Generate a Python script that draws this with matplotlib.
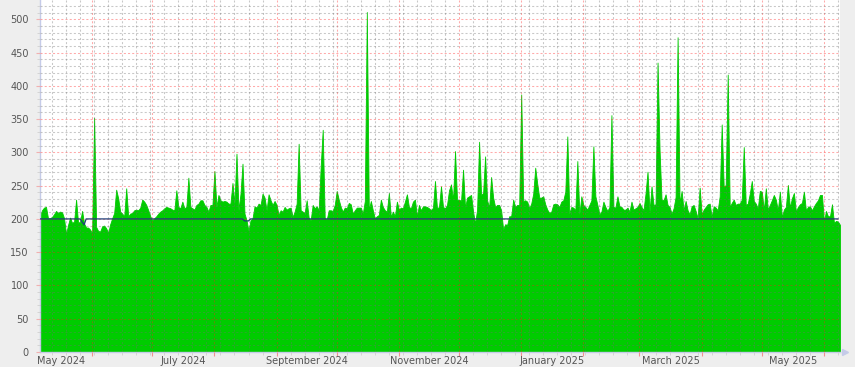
import matplotlib
matplotlib.use("Agg")
import matplotlib.pyplot as plt
import matplotlib.dates as mdates
import pandas as pd

# daily values, 2024-05-06 .. 2025-06-09
start_date = "2024-05-06"
values = [
    205, 213, 217, 218, 201, 201, 203, 207, 212, 209, 211, 210, 201, 177, 191, 202, 194, 196, 229, 194,
    196, 212, 193, 187, 187, 184, 178, 352, 188, 182, 181, 189, 190, 186, 179, 192, 201, 209, 244, 231,
    211, 208, 204, 246, 204, 208, 209, 213, 214, 213, 217, 229, 226, 221, 213, 204, 198, 201, 204, 208,
    211, 213, 216, 218, 217, 216, 214, 213, 243, 218, 216, 226, 216, 218, 262, 218, 216, 214, 221, 223,
    228, 228, 221, 218, 211, 221, 221, 272, 218, 236, 228, 226, 227, 226, 223, 223, 254, 223, 298, 213,
    238, 283,
    208, 198, 182, 198, 201, 219, 217, 223, 221, 238, 232, 213, 237, 228, 221, 227, 221, 206, 213, 211,
    218, 214, 216, 217, 203, 211, 223, 313, 213, 211, 209, 228, 202, 198, 221, 216, 219, 213, 279, 334,
    202, 199, 213, 213, 212, 221, 242, 229, 218, 211, 217, 216, 224, 222, 208, 213, 217, 217, 217, 208,
    227, 511, 213, 227, 213, 201, 204, 206, 229, 218, 213, 211, 239, 203, 211, 204, 226, 214, 217, 216,
    226, 237, 218, 216, 226, 229, 204, 221, 213, 219, 219, 218, 216, 213, 217, 257, 216, 218, 249, 218,
    216, 221, 243, 252, 228, 302, 228, 229, 227, 274, 217, 232, 234, 236, 211, 193, 214, 316, 236, 239,
    294, 228, 217, 263, 232, 218, 221, 221, 213, 184, 192, 191, 204, 204, 229, 218, 221, 221, 387, 227,
    228, 226, 216, 223, 238, 277, 253, 232, 232, 234, 222, 214, 209, 211, 222, 223, 222, 218, 226, 228,
    241, 324, 208, 218, 217, 213, 287, 207, 234, 221, 218, 214, 221, 228, 309, 234, 221, 207, 211, 226,
    218, 212, 218, 356, 218, 217, 234, 219, 218, 214, 214, 217, 211, 226, 214, 216, 218, 224, 218, 213,
    238, 271, 211, 249, 221, 222, 435, 304, 229, 228, 237, 221, 218, 208, 216, 233, 473, 223, 242, 213,
    227, 213, 207, 219, 221, 212, 201, 247, 207, 214, 218, 222, 223, 203, 219, 217, 213, 234, 342, 248,
    251, 417, 218, 224, 229, 221, 223, 223, 229, 308, 221, 223, 238, 257, 227, 223, 216, 242, 241, 213,
    246, 214, 221, 228, 236, 229, 213, 241, 202, 214, 218, 251, 217, 231, 239, 211, 218, 222, 224, 241,
    213, 218, 219, 213, 219, 224, 228, 236, 236, 196, 212, 204, 204, 222, 194, 197, 196, 191,
]

# reference line (breakpoints)
ref_dates = ["2024-05-06", "2024-05-26", "2024-05-28", "2024-05-29", "2024-08-15",
             "2024-08-16", "2024-08-18", "2024-08-19", "2025-06-08"]
ref_values = [200, 200, 191, 200, 200, 197, 197, 200, 200]

month_labels = ["May 2024", "July 2024", "September 2024", "November 2024",
                "January 2025", "March 2025", "May 2025"]
label_months = ["2024-05", "2024-07", "2024-09", "2024-11", "2025-01", "2025-03", "2025-05"]

dates = pd.date_range(start_date, periods=len(values), freq="D")

fig = plt.figure(figsize=(8.55, 3.67), dpi=100, facecolor="#eeeeee")
ax = fig.add_axes([40 / 855, 15 / 367, 800 / 855, 352 / 367])
ax.set_facecolor("white")

ax.fill_between(dates, values, 0, color="#00cc00", edgecolor="#00cc00", linewidth=0.6, zorder=1)
ax.plot(pd.to_datetime(ref_dates), ref_values, color="#1f3f78", linewidth=0.9, zorder=4)

ax.set_xlim(dates[0], dates[-1])
ax.set_ylim(0, 529)

dot = (0, (2, 2))
ax.set_axisbelow(False)
ax.yaxis.set_major_locator(plt.MultipleLocator(50))
ax.yaxis.set_minor_locator(plt.MultipleLocator(10))
ax.xaxis.set_major_locator(mdates.MonthLocator())
ax.xaxis.set_minor_locator(mdates.WeekdayLocator(byweekday=mdates.SU))
ax.xaxis.set_major_formatter(plt.NullFormatter())

ax.grid(which="minor", color="#707070", alpha=0.38, linestyle=dot, linewidth=0.75)
ax.grid(which="major", color="#ff2020", alpha=0.38, linestyle=dot, linewidth=0.75)

ax.tick_params(axis="y", which="major", length=3, color="#f0b0b0", labelsize=7,
               labelcolor="#555555", pad=5)
ax.tick_params(axis="y", which="minor", length=2, color="#d0d0d0")
ax.tick_params(axis="x", which="major", length=3, color="#f09090")
ax.tick_params(axis="x", which="minor", length=2, color="#d0d0d0")

# month labels centred in the middle of the month
for lab, m in zip(month_labels, label_months):
    m0 = pd.Timestamp(m + "-01")
    mid = m0 + (m0 + pd.offsets.MonthBegin(1) - m0) / 2
    ax.text(mid, -0.012, lab, transform=ax.get_xaxis_transform(), ha="center", va="top",
            fontsize=7, color="#555555")

for side in ["top", "right"]:
    ax.spines[side].set_visible(False)
for side in ["left", "bottom"]:
    ax.spines[side].set_color("#c5cbe8")
    ax.spines[side].set_linewidth(1.0)

ax.plot([1.006], [0], marker=">", markersize=5, color="#c5cbe8", transform=ax.transAxes,
        clip_on=False)

fig.savefig("out.png", dpi=100, facecolor=fig.get_facecolor())
